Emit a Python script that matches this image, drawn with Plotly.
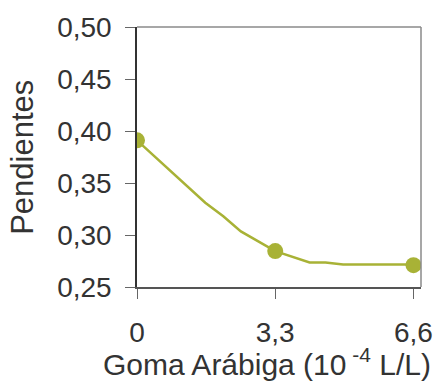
import plotly.graph_objects as go

# measured points (markers)
x_points = [0, 3.3, 6.6]
y_points = [0.391, 0.2845, 0.271]

# fitted curve
x_curve = [0, 1.63, 2.06, 2.48, 3.3, 4.12, 4.50, 4.92, 6.6]
y_curve = [0.391, 0.331, 0.318, 0.3035, 0.2845, 0.2735, 0.2735, 0.2716, 0.2716]

x_ticks = [0, 3.3, 6.6]
x_ticklabels = ["0", "3,3", "6,6"]
y_ticks = [0.25, 0.30, 0.35, 0.40, 0.45, 0.50]
y_ticklabels = ["0,25", "0,30", "0,35", "0,40", "0,45", "0,50"]

green = "#A8B236"
font = "Liberation Sans, Arial, sans-serif"
text_col = "#333333"

fig = go.Figure()
fig.add_trace(go.Scatter(x=x_curve, y=y_curve, mode="lines",
                         line=dict(color=green, width=2.5), hoverinfo="skip"))
fig.add_trace(go.Scatter(x=x_points, y=y_points, mode="markers",
                         marker=dict(color=green, size=16, line=dict(width=0))))

fig.update_layout(
    width=445, height=383,
    margin=dict(l=137, r=12, t=24, b=96),
    paper_bgcolor="white", plot_bgcolor="white",
    showlegend=False,
    font=dict(family=font, color=text_col, size=28),
    xaxis=dict(range=[0, 6.78], tickvals=x_ticks, ticktext=x_ticklabels,
               showgrid=False, zeroline=False, showline=True, linecolor="#555555",
               linewidth=1.5, ticks="outside", ticklen=10, tickcolor="#666666",
               tickwidth=1, ticklabelstandoff=10,
               tickfont=dict(family=font, size=28, color=text_col)),
    yaxis=dict(range=[0.25, 0.50], tickvals=y_ticks, ticktext=y_ticklabels,
               showgrid=False, zeroline=False, showline=True, linecolor="#333333",
               linewidth=1.5, ticks="outside", ticklen=10, tickcolor="#666666",
               tickwidth=1, ticklabelstandoff=8,
               tickfont=dict(family=font, size=28, color=text_col)),
    shapes=[
        dict(type="line", xref="paper", yref="paper", x0=0, x1=1, y0=1, y1=1,
             line=dict(color="#8a8a8a", width=1.5)),
        dict(type="line", xref="paper", yref="paper", x0=1, x1=1, y0=0, y1=1,
             line=dict(color="#8a8a8a", width=1.5)),
    ],
    annotations=[
        dict(text="Goma Arábiga (10<sup> -4</sup> L/L)", xref="paper", yref="paper",
             x=(273 - 137) / 296, y=-(384 - 287) / 263, xanchor="center", yanchor="bottom",
             showarrow=False, font=dict(family=font, size=30, color=text_col)),
        dict(text="Pendientes", xref="paper", yref="paper",
             x=-(137 - 17) / 296, y=0.5, xanchor="center", yanchor="middle",
             textangle=-90, showarrow=False, font=dict(family=font, size=31, color=text_col)),
    ],
)

fig.write_html("out.html")
